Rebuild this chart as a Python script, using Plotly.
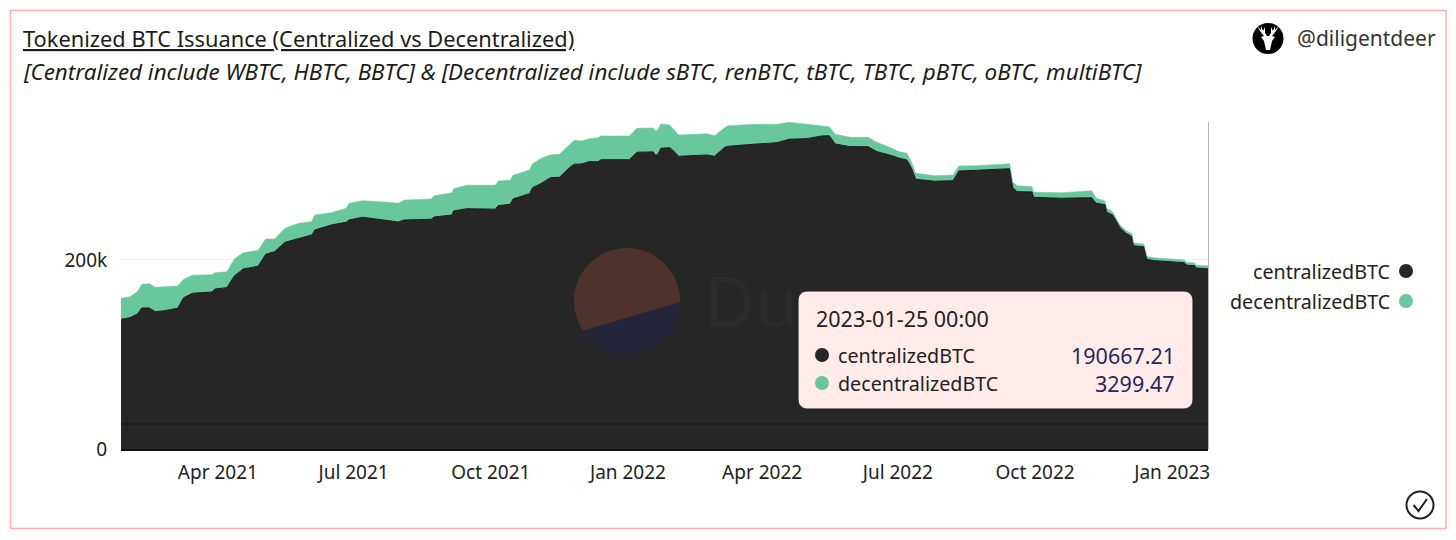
import numpy as np
import plotly.graph_objects as go

# ---------- data ----------
dates = ["2021-01-26","2021-02-01","2021-02-06","2021-02-09","2021-02-14","2021-02-18","2021-02-24","2021-03-05","2021-03-09","2021-03-15",
"2021-03-28","2021-03-30","2021-04-07","2021-04-12","2021-04-18","2021-04-28","2021-05-03","2021-05-09","2021-05-16","2021-05-25",
"2021-06-03","2021-06-05","2021-06-16","2021-06-26","2021-06-28","2021-07-07","2021-07-24","2021-07-31","2021-08-04","2021-08-22",
"2021-08-24","2021-09-05","2021-09-06","2021-09-15","2021-10-04","2021-10-06","2021-10-14","2021-10-16","2021-10-27","2021-10-29",
"2021-11-04","2021-11-10","2021-11-16","2021-11-23","2021-11-26","2021-12-01","2021-12-06","2021-12-12","2021-12-14","2022-01-02",
"2022-01-07","2022-01-18","2022-01-19","2022-01-21","2022-01-23","2022-01-29","2022-01-31","2022-02-04","2022-02-23","2022-02-28",
"2022-03-07","2022-03-09","2022-03-28","2022-04-11","2022-04-19","2022-05-01","2022-05-11","2022-05-16","2022-05-20","2022-05-30",
"2022-06-11","2022-06-17","2022-06-27","2022-07-02","2022-07-07","2022-07-10","2022-07-13","2022-07-26","2022-08-07","2022-08-11",
"2022-08-23","2022-09-14","2022-09-16","2022-09-19","2022-09-29","2022-09-30","2022-10-19","2022-11-08","2022-11-11","2022-11-17",
"2022-11-18","2022-11-22","2022-11-27","2022-12-01","2022-12-05","2022-12-06","2022-12-13","2022-12-15","2022-12-20","2023-01-09",
"2023-01-11","2023-01-16","2023-01-17","2023-01-25"]
centralizedBTC = [137200,138900,142900,149200,149200,145300,146300,148900,160100,164800,
166100,169300,170700,183100,190500,193300,206000,208800,218700,222200,
226500,231700,237000,239900,242300,245200,242000,240200,242300,243100,
245500,247600,251900,254300,253700,257500,258900,264600,270200,276500,
281200,287100,287500,298100,301300,301600,304000,304000,306100,306100,
314000,314300,311100,311100,318200,318800,316400,309700,311100,309700,
319300,320300,322700,324100,327700,328400,331200,331500,322700,319900,
319900,314600,310400,307600,305800,297700,285400,283300,283900,294200,
294900,296600,276900,272300,272000,266300,265300,265900,260000,258500,
250500,247600,234200,228300,224700,215100,213800,200700,199300,197100,
194400,194000,191500,190667.21]
decentralizedBTC = [22200,22200,23600,25100,25700,25800,25400,23600,19500,19000,
18300,17200,16900,18000,17200,16900,16200,13400,14800,16600,
14100,15900,13000,14800,17700,17600,19000,19800,21200,21500,
22500,23600,23600,24800,25400,26100,25400,25100,25100,25400,
26500,24000,24300,23600,25400,24300,24300,25400,25100,25100,
25400,25400,25700,26500,25700,24000,23000,22500,22500,21800,
20700,21800,20800,19500,18000,15200,10900,9500,10300,9900,
9900,9900,7800,7000,7100,6300,6300,5900,6000,5300,
4900,5300,5300,6300,5600,5300,5900,7400,5300,3900,
4200,3500,2800,2800,3000,3000,3000,3000,3000,3000,
3000,3000,3000,3299.47]
series_names = ["centralizedBTC", "decentralizedBTC"]
x_ticks = ["2021-04-01","2021-07-01","2021-10-01","2022-01-01","2022-04-01","2022-07-01","2022-10-01","2023-01-01"]
y_ticks = [0, 200000]
y_tick_labels = ["0", "200k"]

title = "Tokenized BTC Issuance (Centralized vs Decentralized)"
subtitle = "[Centralized include WBTC, HBTC, BBTC] & [Decentralized include sBTC, renBTC, tBTC, TBTC, pBTC, oBTC, multiBTC]"
tip_date = "2023-01-25 00:00"
tip_values = ["190667.21", "3299.47"]

# ---------- style ----------
FONT = "Noto Sans"
DARK = "#262626"
GREEN = "#69c79e"
TXT = "#222222"
L, R, T, B = 121, 1208, 122, 449

def fx(x): return (x - L) / (R - L)
def fy(y): return (B - y) / (B - T)

def rect(x0, y0, x1, y1, **kw):
    return dict(type="rect", xref="paper", yref="paper", x0=fx(x0), x1=fx(x1), y0=fy(y0), y1=fy(y1), layer="above", **kw)

def circle(cx, cy, r, **kw):
    return dict(type="circle", xref="paper", yref="paper", x0=fx(cx-r), x1=fx(cx+r), y0=fy(cy-r), y1=fy(cy+r), layer="above", **kw)

def poly(pts, close=True, **kw):
    d = "M" + " L".join(f"{fx(a):.5f},{fy(b):.5f}" for a, b in pts) + (" Z" if close else "")
    return dict(type="path", xref="paper", yref="paper", path=d, layer="above", **kw)

def rrect(x0, y0, x1, y1, r):
    pts = []
    for cx, cy, a0 in [(x1-r, y0+r, -90), (x1-r, y1-r, 0), (x0+r, y1-r, 90), (x0+r, y0+r, 180)]:
        for a in np.radians(np.linspace(a0, a0+90, 7)):
            pts.append((cx + r*np.cos(a), cy + r*np.sin(a)))
    return pts

def text(x, y, s, size=17, color=TXT, anchor="left", **font):
    return dict(xref="paper", yref="paper", x=fx(x), y=fy(y), text=s, showarrow=False,
                xanchor=anchor, yanchor="middle", borderpad=0,
                font=dict(family=FONT, size=size, color=color, **font))

NOLINE = dict(width=0)
shapes = []
# card border
shapes.append(rect(10.5, 10.5, 1446, 528.5, line=dict(color="#ffb1ab", width=1.5), fillcolor="rgba(0,0,0,0)"))
# right axis edge and faint rule inside the area
shapes.append(dict(type="line", xref="paper", yref="paper", x0=fx(1208.5), x1=fx(1208.5), y0=0, y1=1, layer="above", line=dict(color="#b5b5b5", width=1)))
shapes.append(dict(type="line", xref="paper", yref="paper", x0=0, x1=1, y0=fy(424), y1=fy(424), layer="above", line=dict(color="#171717", width=1)))
# watermark
cx, cy, r = 627, 301, 53
shapes.append(circle(cx, cy, r, fillcolor="#4e322c", line=NOLINE))
arc = np.radians(np.linspace(1, 146, 50))
shapes.append(poly([(cx + r*np.cos(a), cy + r*np.sin(a)) for a in arc], fillcolor="#25253a", line=NOLINE))
# tooltip
shapes.append(poly(rrect(798, 291, 1193, 409, 9), fillcolor="#ffecea", line=dict(color="#1a1a1a", width=1)))
shapes.append(circle(822, 355, 7, fillcolor=DARK, line=NOLINE))
shapes.append(circle(822, 383, 7, fillcolor=GREEN, line=NOLINE))
# legend markers
shapes.append(circle(1406, 271, 7, fillcolor=DARK, line=NOLINE))
shapes.append(circle(1406, 301, 7, fillcolor=GREEN, line=NOLINE))
# avatar
shapes.append(circle(1268, 38.5, 15.5, fillcolor="#000000", line=NOLINE))
deer = [(1266,50),(1270,50),(1272,41),(1275,37),(1272,36),(1276,31),(1279,26),(1275,30),(1275,26),(1273,31),(1271,27),(1271,33),(1269,36),
        (1267,36),(1265,33),(1265,27),(1263,31),(1261,26),(1261,30),(1257,26),(1260,31),(1264,36),(1261,37),(1264,41)]
shapes.append(poly(deer, fillcolor="#ffffff", line=NOLINE))
# check badge
shapes.append(circle(1420, 505, 13.5, fillcolor="#ffffff", line=dict(color="#222222", width=2)))
shapes.append(poly([(1413.5,505),(1418.5,511),(1427,499)], close=False, line=dict(color="#222222", width=2)))

annotations = [
    text(22, 39, title, size=21.8, color="#1c1c1c", lineposition="under"),
    text(22, 72, f"<i>{subtitle}</i>", size=22.4, color="#1c1c1c"),
    text(1296, 38, "@diligentdeer", size=21, color="#333333"),
    text(703, 300, "Du", size=70, color="#2b2b2b"),
    text(815, 318, tip_date, size=21.5),
    text(837, 355, series_names[0], size=19.7),
    text(837, 383, series_names[1], size=19.7),
    text(1176, 355, tip_values[0], size=21.5, color="#1f2a5e", anchor="right"),
    text(1176, 383, tip_values[1], size=21.5, color="#1f2a5e", anchor="right"),
    text(1391, 271, series_names[0], size=19.7, anchor="right"),
    text(1391, 301, series_names[1], size=19.7, anchor="right"),
]

fig = go.Figure()
fig.add_trace(go.Scatter(x=dates, y=centralizedBTC, name=series_names[0], mode="lines", stackgroup="one",
                         fillcolor=DARK, line=dict(color="#161616", width=1), showlegend=False))
fig.add_trace(go.Scatter(x=dates, y=decentralizedBTC, name=series_names[1], mode="lines", stackgroup="one",
                         fillcolor=GREEN, line=dict(color=GREEN, width=0.5), showlegend=False))

fig.update_layout(
    width=1456, height=540, autosize=False,
    margin=dict(l=L, r=1456-R, t=T, b=540-B, pad=0),
    paper_bgcolor="#ffffff", plot_bgcolor="#ffffff",
    shapes=shapes, annotations=annotations, hovermode=False,
    font=dict(family=FONT, size=17, color=TXT),
    xaxis=dict(type="date", range=["2021-01-26", "2023-01-25"], tickmode="array", tickvals=x_ticks, tickformat="%b %Y",
               showgrid=False, zeroline=False, showline=True, linecolor="#111111", linewidth=2, ticks="outside", ticklen=5, tickcolor="rgba(0,0,0,0)",
               tickfont=dict(family=FONT, size=19, color=TXT)),
    yaxis=dict(range=[0, 346000], tickmode="array", tickvals=y_ticks, ticktext=y_tick_labels,
               showgrid=True, gridcolor="#eeeeee", gridwidth=1, zeroline=False, showline=False, ticks="outside", ticklen=9, tickcolor="rgba(0,0,0,0)",
               tickfont=dict(family=FONT, size=19, color=TXT)),
)

fig.write_html("out.html", config=dict(displayModeBar=False), post_script="document.body.style.margin='0';")
